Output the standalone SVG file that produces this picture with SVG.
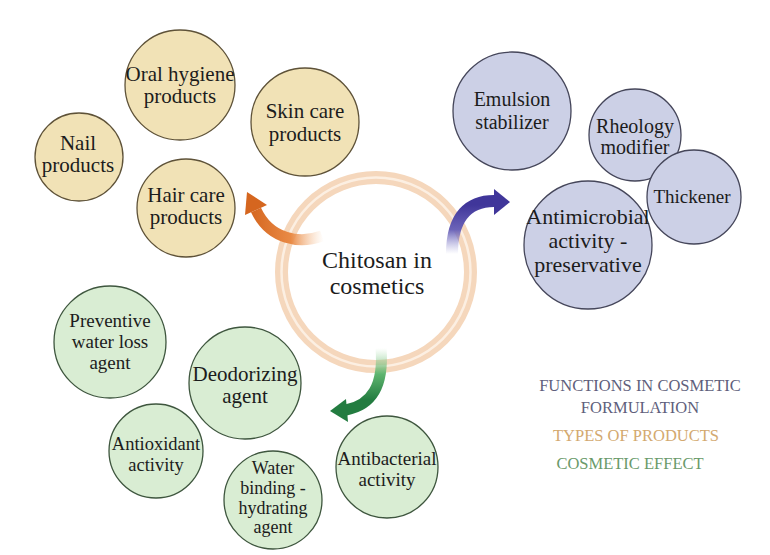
<svg xmlns="http://www.w3.org/2000/svg" width="770" height="555" viewBox="0 0 770 555">
<defs>
<style>
.t{fill:#1c1c1c;text-anchor:middle}
.tan{fill:#f1e2b6;stroke:#5e5238;stroke-width:1.3}
.blue{fill:#ccd0e6;stroke:#45465a;stroke-width:1.3}
.green{fill:#d9edd3;stroke:#3e563e;stroke-width:1.3}
.leg{font-size:16.5px;text-anchor:middle}
</style>
<linearGradient id="gO" gradientUnits="userSpaceOnUse" x1="250" y1="0" x2="324" y2="0">
<stop offset="0" stop-color="#d5661f"/><stop offset="0.55" stop-color="#e98a45"/><stop offset="1" stop-color="#f7c79c" stop-opacity="0"/>
</linearGradient>
<linearGradient id="gB" gradientUnits="userSpaceOnUse" x1="0" y1="254" x2="0" y2="205">
<stop offset="0" stop-color="#9a98d6" stop-opacity="0"/><stop offset="0.5" stop-color="#6b63b8"/><stop offset="1" stop-color="#40369a"/>
</linearGradient>
<linearGradient id="gG" gradientUnits="userSpaceOnUse" x1="0" y1="348" x2="0" y2="400">
<stop offset="0" stop-color="#a8dca8" stop-opacity="0"/><stop offset="0.5" stop-color="#5fb56f"/><stop offset="1" stop-color="#237c40"/>
</linearGradient>
</defs>
<rect width="770" height="555" fill="#ffffff"/>
<g font-family="'Liberation Serif', 'DejaVu Serif', serif">
<g id="center">
<circle cx="376" cy="272" r="94.5" fill="none" stroke="#f5d7bc" stroke-width="13"/>
<circle cx="376" cy="272" r="94.5" fill="none" stroke="#fcefe2" stroke-width="2.5"/>
<text class="t" font-size="24" x="377" y="268">Chitosan in</text>
<text class="t" font-size="24" x="377" y="294">cosmetics</text>
</g>

<g id="connectors">
<path d="M322,236 C300,244 270,240 256,210" fill="none" stroke="url(#gO)" stroke-width="11"/>
<polygon points="247,192 245,215 267,205" fill="#d5661f"/>
<path d="M452,254 C452,215 470,201 494,201" fill="none" stroke="url(#gB)" stroke-width="12"/>
<polygon points="510,202 494,189 494,215" fill="#40369a"/>
<path d="M381,348 C384,385 372,405 346,410" fill="none" stroke="url(#gG)" stroke-width="11"/>
<polygon points="330,411 346,399 348,422" fill="#237c40"/>
</g>

<g id="oral-hygiene">
<circle class="tan" cx="180" cy="85" r="55"/>
<text class="t" font-size="21" x="180" y="81">Oral hygiene</text>
<text class="t" font-size="21" x="180" y="103">products</text>
</g>
<g id="skin-care">
<circle class="tan" cx="305" cy="122" r="54"/>
<text class="t" font-size="21" x="305" y="118">Skin care</text>
<text class="t" font-size="21" x="305" y="141">products</text>
</g>
<g id="nail">
<circle class="tan" cx="79" cy="157" r="44"/>
<text class="t" font-size="21" x="78" y="150">Nail</text>
<text class="t" font-size="21" x="78" y="172">products</text>
</g>
<g id="hair-care">
<circle class="tan" cx="186" cy="208" r="49"/>
<text class="t" font-size="21" x="186" y="202">Hair care</text>
<text class="t" font-size="21" x="186" y="224">products</text>
</g>

<g id="emulsion">
<circle class="blue" cx="512" cy="111" r="59"/>
<text class="t" font-size="20" x="512" y="106">Emulsion</text>
<text class="t" font-size="20" x="512" y="129">stabilizer</text>
</g>
<g id="rheology">
<circle class="blue" cx="635" cy="135" r="46"/>
<text class="t" font-size="20" x="635" y="133">Rheology</text>
<text class="t" font-size="20" x="635" y="154">modifier</text>
</g>
<g id="thickener">
<circle class="blue" cx="694" cy="197" r="47"/>
<text class="t" font-size="19" x="692" y="203">Thickener</text>
</g>
<g id="antimicrobial">
<circle class="blue" cx="588" cy="245" r="64"/>
<text class="t" font-size="22" x="588" y="224">Antimicrobial</text>
<text class="t" font-size="22" x="588" y="248">activity -</text>
<text class="t" font-size="22" x="588" y="272">preservative</text>
</g>

<g id="preventive">
<circle class="green" cx="110" cy="342" r="56"/>
<text class="t" font-size="19" x="110" y="327">Preventive</text>
<text class="t" font-size="19" x="110" y="348">water loss</text>
<text class="t" font-size="19" x="110" y="369">agent</text>
</g>
<g id="deodorizing">
<circle class="green" cx="245" cy="383" r="56"/>
<text class="t" font-size="21" x="245" y="381">Deodorizing</text>
<text class="t" font-size="21" x="245" y="403">agent</text>
</g>
<g id="antioxidant">
<circle class="green" cx="156" cy="451" r="47"/>
<text class="t" font-size="18.5" x="156" y="450">Antioxidant</text>
<text class="t" font-size="18.5" x="156" y="471">activity</text>
</g>
<g id="water-binding">
<circle class="green" cx="273" cy="500" r="49"/>
<text class="t" font-size="18" x="273" y="474">Water</text>
<text class="t" font-size="18" x="273" y="494">binding -</text>
<text class="t" font-size="18" x="273" y="514">hydrating</text>
<text class="t" font-size="18" x="273" y="533">agent</text>
</g>
<g id="antibacterial">
<circle class="green" cx="387" cy="467" r="51"/>
<text class="t" font-size="19" x="387" y="465">Antibacterial</text>
<text class="t" font-size="19" x="387" y="486">activity</text>
</g>

<g id="legend">
<text class="leg" fill="#5f5f7c" x="640" y="391">FUNCTIONS IN COSMETIC</text>
<text class="leg" fill="#5f5f7c" x="640" y="413">FORMULATION</text>
<text class="leg" fill="#d3a96f" x="636" y="441">TYPES OF PRODUCTS</text>
<text class="leg" fill="#6a9a6a" x="630" y="469">COSMETIC EFFECT</text>
</g>
</g>
</svg>
